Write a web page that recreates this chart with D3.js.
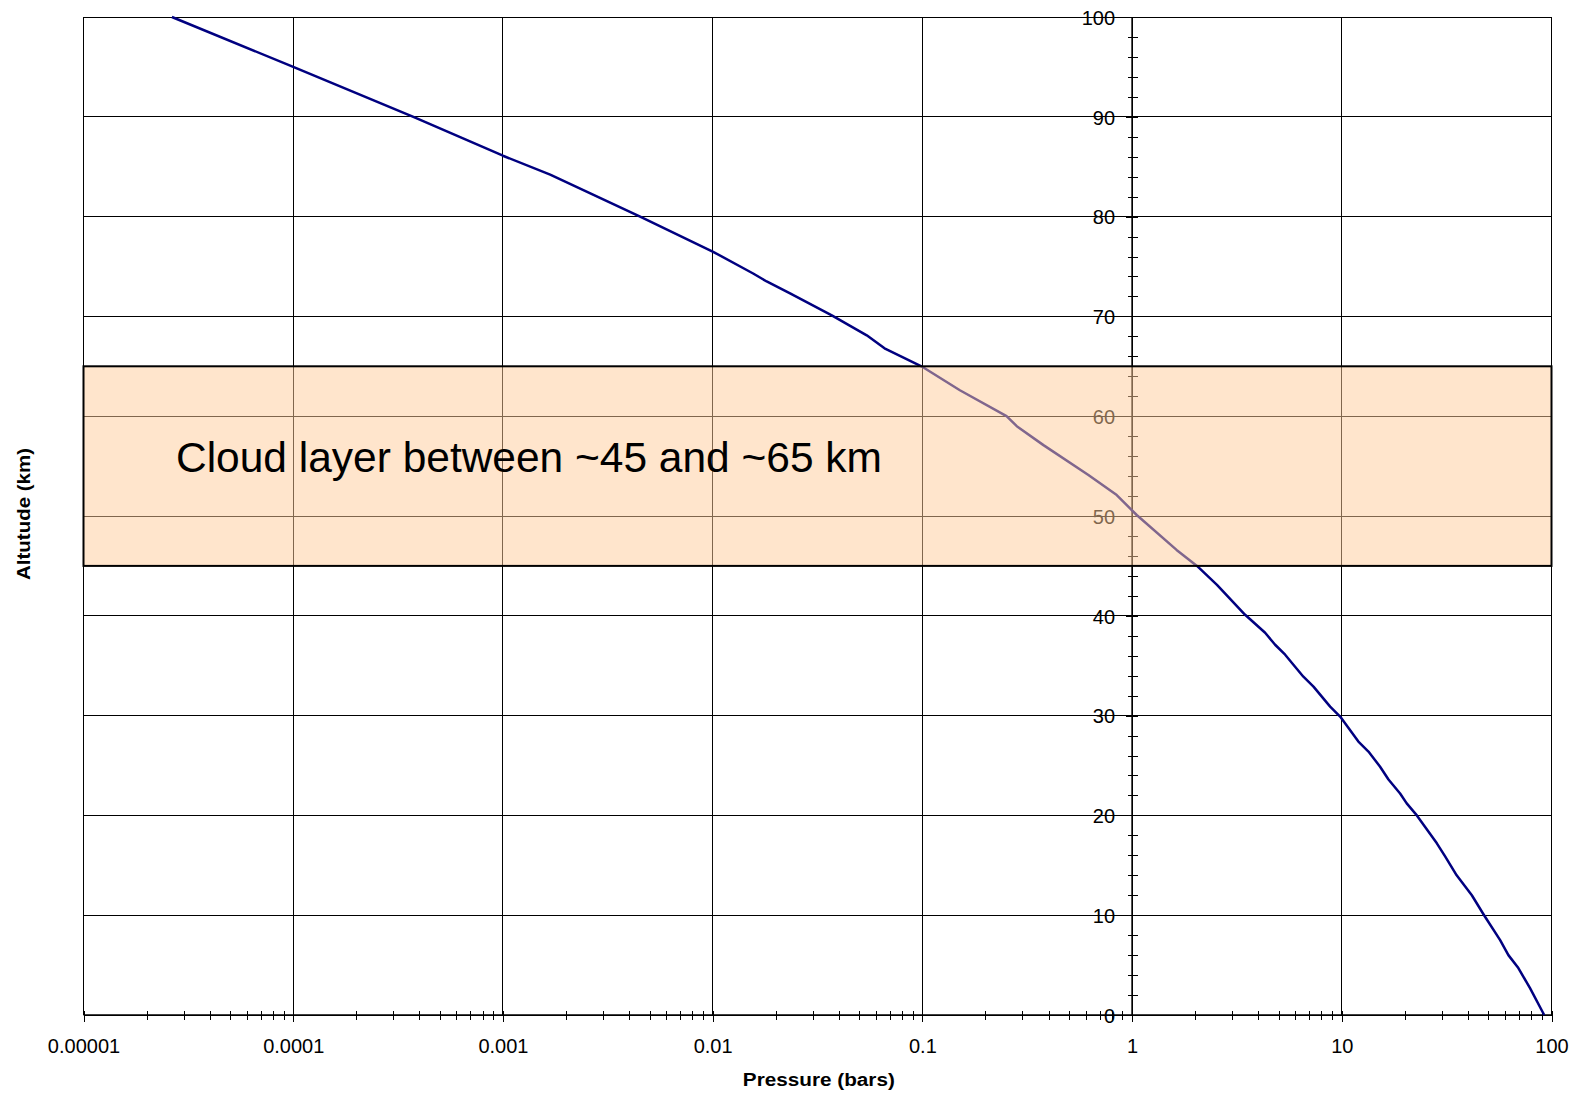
<!DOCTYPE html>
<html>
<head>
<meta charset="utf-8">
<script src="https://cdn.jsdelivr.net/npm/d3@7"></script>
<style>
  html, body { margin: 0; padding: 0; background: #fff; }
  svg { display: block; font-family: "Liberation Sans", Arial, sans-serif; }
</style>
</head>
<body>
<svg id="chart" width="1575" height="1094"></svg>
<script>
// ---- data ----
const altitudeKm = [0, 2.7, 4.7, 6.0, 7.5, 10.0, 12.0, 14.0, 15.9, 17.2, 20.0, 21.2, 22.2, 23.6, 24.9,
                    26.4, 27.4, 29.9, 30.9, 32.9, 33.9, 35.1, 36.1, 37.1, 38.3, 40.1, 43.1, 45.0, 46.6,
                    50.1, 52.1, 54.1, 57.1, 59.0, 60.0, 62.6, 65.0, 66.8, 68.1, 70.1, 72.3, 73.5, 74.3,
                    76.5, 80.0, 84.2, 86.1, 90.0, 95.0, 100];
const pressureBars = [92.3, 79.0, 69.5, 62.3, 56.9, 47.7, 41.7, 35.3, 31.1, 28.4, 22.8, 20.4, 18.97, 16.7, 15.2,
                      13.4, 12.0, 9.82, 8.80, 7.33, 6.56, 5.88, 5.37, 4.81, 4.31, 3.46, 2.54, 2.04, 1.63,
                      1.052, 0.845, 0.619, 0.378, 0.282, 0.252, 0.151, 0.099, 0.066, 0.0543, 0.0370, 0.0234, 0.0181, 0.0156,
                      0.0100, 0.00451, 0.00168, 0.00100, 0.000374, 0.0001, 0.0000264];
const xTickValues = [0.00001, 0.0001, 0.001, 0.01, 0.1, 1, 10, 100];
const xTickLabels = ["0.00001", "0.0001", "0.001", "0.01", "0.1", "1", "10", "100"];
const yTickValues = [0, 10, 20, 30, 40, 50, 60, 70, 80, 90, 100];
const cloudLayer = [45, 65];
const cloudLabel = "Cloud layer between ~45 and ~65 km";
const xTitle = "Pressure (bars)";
const yTitle = "Altutude (km)";

(function () {
// ---- layout ----
const svg = d3.select("#chart");
const pL = 83.5, pR = 1551.5, pT = 17, pB = 1015;
const x = d3.scaleLog().domain([1e-5, 100]).range([pL, pR]);
const y = d3.scaleLinear().domain([0, 100]).range([pB, pT]);

// gridlines
const grid = svg.append("g").attr("stroke", "#000").attr("stroke-width", 1).attr("shape-rendering", "crispEdges");
grid.selectAll("line.v").data(xTickValues).join("line").attr("class", "v")
  .attr("x1", d => x(d)).attr("x2", d => x(d)).attr("y1", pT).attr("y2", pB);
grid.selectAll("line.h").data(yTickValues).join("line").attr("class", "h")
  .attr("x1", pL).attr("x2", pR).attr("y1", d => y(d)).attr("y2", d => y(d));

// minor x ticks (2..9 per decade)
const minorX = x.ticks().filter(d => !xTickValues.some(v => Math.abs(v - d) / v < 1e-6));
const xAxisMinor = svg.append("g").attr("transform", `translate(0,${pB})`)
  .call(d3.axisBottom(x).tickValues(minorX).tickSize(5).tickFormat(""));
xAxisMinor.select(".domain").remove();
xAxisMinor.selectAll(".tick line").attr("y1", -4).attr("stroke", "#000").attr("shape-rendering", "crispEdges");

const xAxis = svg.append("g").attr("transform", `translate(0,${pB})`)
  .call(d3.axisBottom(x).tickValues(xTickValues).tickSize(7).tickSizeOuter(0)
        .tickFormat((d, i) => xTickLabels[i]));
xAxis.select(".domain").attr("stroke", "#000").attr("stroke-width", 1.5).attr("d", `M${pL},0H${pR}`);
xAxis.selectAll(".tick line").attr("y1", -4).attr("stroke", "#000").attr("shape-rendering", "crispEdges");
xAxis.selectAll(".tick text").attr("y", 38).attr("dy", 0).attr("fill", "#000")
  .attr("font-size", 20).attr("font-family", "Liberation Sans, Arial, sans-serif");

// y axis at pressure = 1
const yAxisX = x(1);
const minorY = d3.range(0, 101, 2).filter(d => d % 10 !== 0);
const yAxisMinor = svg.append("g").attr("transform", `translate(${yAxisX},0)`)
  .call(d3.axisRight(y).tickValues(minorY).tickSize(6).tickFormat(""));
yAxisMinor.select(".domain").remove();
yAxisMinor.selectAll(".tick line").attr("x1", -4).attr("stroke", "#000").attr("shape-rendering", "crispEdges");

const yAxis = svg.append("g").attr("transform", `translate(${yAxisX},0)`)
  .call(d3.axisLeft(y).tickValues(yTickValues).tickSize(6).tickSizeOuter(0).tickFormat(d3.format("d")));
yAxis.select(".domain").attr("stroke", "#000").attr("stroke-width", 1.5).attr("d", `M0,${pT}V${pB}`);
yAxis.selectAll(".tick line").attr("x2", -6).attr("x1", 6).attr("stroke", "#000").attr("shape-rendering", "crispEdges");
yAxis.selectAll(".tick text").attr("x", -17).attr("dy", "0.36em").attr("fill", "#000")
  .attr("font-size", 20).attr("font-family", "Liberation Sans, Arial, sans-serif");

// profile curve
const pts = altitudeKm.map((h, i) => [pressureBars[i], h]);
svg.append("path").datum(pts)
  .attr("fill", "none").attr("stroke", "#000080").attr("stroke-width", 2.5)
  .attr("stroke-linejoin", "round")
  .attr("d", d3.line().x(d => x(d[0])).y(d => y(d[1])));

// cloud layer band (semi transparent)
svg.append("rect")
  .attr("x", pL).attr("y", y(cloudLayer[1]))
  .attr("width", pR - pL).attr("height", y(cloudLayer[0]) - y(cloudLayer[1]))
  .attr("fill", "#FFCC99").attr("fill-opacity", 0.5)
  .attr("stroke", "#000").attr("stroke-width", 2);

svg.append("text")
  .attr("x", 176).attr("y", 472)
  .attr("font-size", 42).attr("fill", "#000")
  .attr("textLength", 706).attr("lengthAdjust", "spacingAndGlyphs")
  .text(cloudLabel);

// axis titles
svg.append("text")
  .attr("x", (742.7 + 895) / 2).attr("y", 1086)
  .attr("text-anchor", "middle").attr("font-weight", "bold").attr("font-size", 18)
  .attr("textLength", 152).attr("lengthAdjust", "spacingAndGlyphs")
  .text(xTitle);

svg.append("text")
  .attr("transform", `translate(29.5,514) rotate(-90)`)
  .attr("text-anchor", "middle").attr("font-weight", "bold").attr("font-size", 18)
  .attr("textLength", 132).attr("lengthAdjust", "spacingAndGlyphs")
  .text(yTitle);
})();
</script>
</body>
</html>
